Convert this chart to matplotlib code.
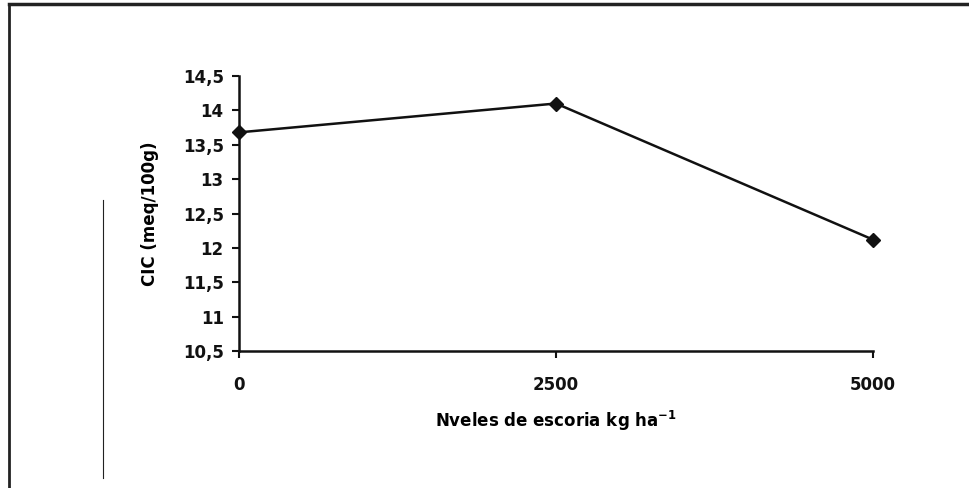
import matplotlib
matplotlib.use("Agg")
import matplotlib.pyplot as plt
from matplotlib.lines import Line2D
from matplotlib.ticker import FuncFormatter

# data
niveles = [0, 2500, 5000]
cic = [13.68, 14.10, 12.12]
y_ticks = [10.5, 11, 11.5, 12, 12.5, 13, 13.5, 14, 14.5]

plt.rcParams['font.family'] = ['DejaVu Sans']
plt.rcParams['font.weight'] = 'bold'
plt.rcParams['mathtext.fontset'] = 'dejavusans'

W, H = 969, 488
fig = plt.figure(figsize=(W / 100, H / 100), dpi=100)
ax = fig.add_axes([239 / W, 1 - 351 / H, (873 - 239) / W, (351 - 76) / H])

ax.plot(niveles, cic, color='#111111', lw=1.8, marker='D', markersize=7,
        markerfacecolor='#111111', markeredgecolor='#111111', clip_on=False)

ax.set_xlim(0, 5000)
ax.set_ylim(10.5, 14.5)
ax.set_xticks(niveles)
ax.set_yticks(y_ticks)

comma = FuncFormatter(lambda v, p: ('%g' % v).replace('.', ','))
ax.yaxis.set_major_formatter(comma)
ax.xaxis.set_major_formatter(FuncFormatter(lambda v, p: '%d' % v))

for s in ['top', 'right']:
    ax.spines[s].set_visible(False)
for s in ['left', 'bottom']:
    ax.spines[s].set_linewidth(1.8)
    ax.spines[s].set_color('#111111')

ax.tick_params(axis='y', direction='out', length=5, width=1.5, pad=6,
               labelsize=12, colors='#111111')
ax.tick_params(axis='x', direction='out', length=5, width=1.5, pad=13,
               labelsize=12, colors='#111111')
for lab in ax.get_xticklabels() + ax.get_yticklabels():
    lab.set_fontweight('bold')

ax.set_ylabel('CIC (meq/100g)', fontsize=12, fontweight='bold', labelpad=17)
ax.set_xlabel('Nveles de escoria kg ha$^{\\mathbf{-1}}$', fontsize=12,
              fontweight='bold', labelpad=11)

# frame of the scanned figure (only left and top edges visible)
fig.add_artist(Line2D([9 / W, 9 / W], [0, 1 - 4 / H], transform=fig.transFigure,
                      color='#222222', lw=2))
fig.add_artist(Line2D([9 / W, 1], [1 - 4 / H, 1 - 4 / H], transform=fig.transFigure,
                      color='#222222', lw=2.5))
# stray vertical line from the scan
fig.add_artist(Line2D([103 / W, 103 / W], [1 - 200 / H, 1 - 478 / H],
                      transform=fig.transFigure, color='#222222', lw=0.8))

fig.savefig('out.png', dpi=100)
